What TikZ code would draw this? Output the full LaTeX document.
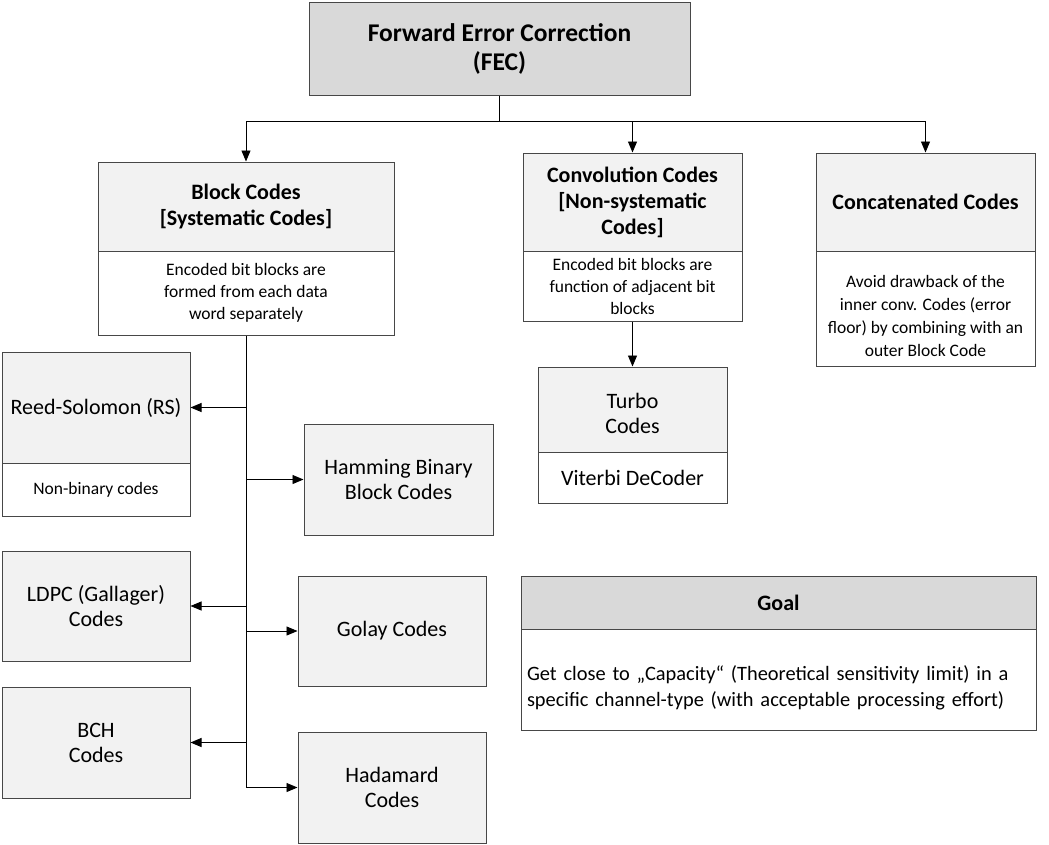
\documentclass[tikz,border=0pt]{standalone}
\usepackage{fontspec}
\setmainfont{Carlito}
\usetikzlibrary{arrows.meta}
\begin{document}
\begin{tikzpicture}[x=1pt,y=-1pt,
  box/.style={draw=black!72, line width=1pt, inner sep=0pt, align=center, text=black, anchor=center},
  title/.style={box, fill=black!15, font=\bfseries\fontsize{25.5}{29}\selectfont},
  head/.style={box, fill=black!5, font=\bfseries\fontsize{22}{26}\selectfont},
  darkhead/.style={box, fill=black!15, font=\bfseries\fontsize{22}{26}\selectfont},
  desc/.style={box, fill=white, font=\fontsize{17.5}{22}\selectfont},
  leaf/.style={box, fill=black!5, font=\fontsize{22}{25}\selectfont},
  note/.style={box, fill=white, font=\fontsize{22}{25}\selectfont},
  label text/.style={inner sep=0pt, align=center, anchor=center, text=black},
  link/.style={draw=black, line width=0.9pt},
  arr/.style={link, -{Triangle[length=11pt,width=9pt]}}]
\useasboundingbox (0,0) rectangle (1049,844);

% root
\node[title, minimum width=381pt, minimum height=93pt] (fec) at (499.5,48.5) {Forward Error Correction\\(FEC)};
\coordinate (bus) at (fec.south |- 0,121);

% first level: code families
\node[head, minimum width=296pt, minimum height=89pt] (blockH) at (246,206.5) {Block Codes\\{}[Systematic Codes]};
\node[desc, minimum width=296pt, minimum height=84pt] (blockD) at (246,293) {Encoded bit blocks are\\formed from each data\\word separately};

\node[head, minimum width=219pt, minimum height=98pt] (convH) at (632.5,202) {Convolution Codes\\{}[Non-systematic\\Codes]};
\node[desc, minimum width=219pt, minimum height=70pt] (convD) at (632.5,286) {Encoded bit blocks are\\function of adjacent bit\\blocks};

\node[head, minimum width=219pt, minimum height=98pt] (concH) at (925.5,202) {Concatenated Codes};
\node[desc, minimum width=219pt, minimum height=115pt] (concD) at (925.5,308.5) {};
\node[label text, font=\fontsize{17.5}{23}\selectfont] (concT) at (925.5,316) {Avoid drawback of the\\inner conv. Codes (error\\floor) by combining with an\\outer Block Code};

% convolution branch
\node[leaf, minimum width=189pt, minimum height=85pt] (turboH) at (632.5,409.5) {};
\node[label text, font=\fontsize{22}{25}\selectfont] (turboT) at (632.5,413) {Turbo\\Codes};
\node[note, minimum width=189pt, minimum height=51pt] (turboD) at (632.5,477.5) {Viterbi DeCoder};

% block code branch, left column
\node[leaf, minimum width=188pt, minimum height=111pt] (rsH) at (96,407.5) {Reed-Solomon (RS)};
\node[desc, minimum width=188pt, minimum height=53pt] (rsD) at (96,489.5) {Non-binary codes};
\node[leaf, minimum width=188pt, minimum height=110pt] (ldpc) at (96,606) {LDPC (Gallager)\\Codes};
\node[leaf, minimum width=188pt, minimum height=111pt] (bch) at (96,742.5) {BCH\\Codes};

% block code branch, right column
\node[leaf, minimum width=189pt, minimum height=111pt] (hamming) at (398.5,479.5) {Hamming Binary\\Block Codes};
\node[leaf, minimum width=188pt, minimum height=110pt] (golay) at (392,631) {Golay Codes};
\node[leaf, minimum width=188pt, minimum height=111pt] (hadamard) at (392,787.5) {Hadamard\\Codes};

% goal panel
\node[darkhead, minimum width=515pt, minimum height=53pt] (goalH) at (778.5,602.5) {Goal};
\node[box, fill=white, minimum width=515pt, minimum height=101pt] (goalD) at (778.5,679.5) {};
\node[label text, font=\fontsize{20.4}{26}\selectfont, text width=503pt, align=left] (goalT) at (778.5,688)
  {Get close to „Capacity“ (Theoretical sensitivity limit) in a\\specific channel-type (with acceptable processing effort)};

% connectors from the root
\draw[link] (fec.south) -- (bus);
\draw[arr] (bus) -| (blockH.north);
\draw[arr] (bus) -| (convH.north);
\draw[arr] (bus) -| (concH.north);

% convolution to turbo
\draw[arr] (convD.south) -- (turboH.north);

% block code trunk and branches
\draw[link] (blockD.south) -- (blockD.south |- hadamard.west);
\draw[arr] (blockD.south |- rsH.east) -- (rsH.east);
\draw[arr] (blockD.south |- hamming.west) -- (hamming.west);
\draw[arr] (blockD.south |- ldpc.east) -- (ldpc.east);
\draw[arr] (blockD.south |- golay.west) -- (golay.west);
\draw[arr] (blockD.south |- bch.east) -- (bch.east);
\draw[arr] (blockD.south |- hadamard.west) -- (hadamard.west);
\end{tikzpicture}
\end{document}
